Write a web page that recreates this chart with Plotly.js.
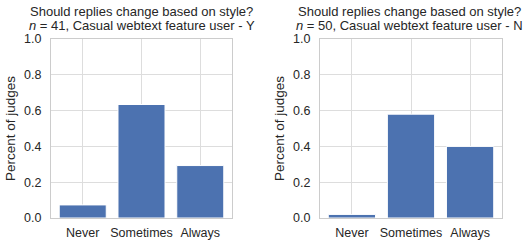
<!DOCTYPE html>
<html><head><meta charset="utf-8">
<script src="https://cdn.plot.ly/plotly-3.0.1.min.js"></script>
<style>html,body{margin:0;padding:0;background:#fff}</style>
</head><body>
<div id="chart" style="width:524px;height:241px"></div>
<script>
const categories = ["Never", "Sometimes", "Always"];
const valuesY = [0.073, 0.634, 0.293];
const valuesN = [0.02, 0.58, 0.40];
const titleLine1 = "Should replies change based on style?";
const subtitleY = "<i>n</i> = 41, Casual webtext feature user - Y";
const subtitleN = "<i>n</i> = 50, Casual webtext feature user - N";
const yTicks = [0, 0.2, 0.4, 0.6, 0.8, 1.0];
const yTickText = ["0.0", "0.2", "0.4", "0.6", "0.8", "1.0"];

const font = "Liberation Sans, Arial, sans-serif";
const txt = "#262626";
const barColor = "#4C72B0";

const traces = [
  {type:"bar", x:[0,1,2], y:valuesY, xaxis:"x", yaxis:"y", width:0.8,
   marker:{color:barColor, line:{color:"#ffffff", width:1}}, hoverinfo:"none"},
  {type:"bar", x:[0,1,2], y:valuesN, xaxis:"x2", yaxis:"y2", width:0.8,
   marker:{color:barColor, line:{color:"#ffffff", width:1}}, hoverinfo:"none"}
];

function xax(domain){
  return {domain:domain, range:[-0.54, 2.54], tickvals:[0,1,2], ticktext:categories,
    showgrid:true, gridcolor:"#dddddd", gridwidth:1, zeroline:false,
    showline:true, linecolor:"#cccccc", linewidth:1, mirror:true,
    ticks:"outside", ticklen:3, tickcolor:"rgba(0,0,0,0)",
    tickfont:{family:font, size:12.5, color:txt}, fixedrange:true};
}
function yax(domain, anchor){
  return {domain:domain, anchor:anchor, range:[0,1], tickvals:yTicks, ticktext:yTickText,
    showgrid:true, gridcolor:"#dddddd", gridwidth:1, zeroline:false,
    showline:true, linecolor:"#cccccc", linewidth:1, mirror:true,
    ticks:"outside", ticklen:6, tickcolor:"rgba(0,0,0,0)",
    tickfont:{family:font, size:12.5, color:txt},
    title:{text:"Percent of judges", font:{family:font, size:13.5, color:txt}, standoff:5},
    fixedrange:true};
}
const d1 = [51/524, 232/524];
const d2 = [320/524, 502/524];
const yd = [1-218/241, 1-39/241];

const tf = {family:font, size:13, color:txt};
const c1 = 141.5/524, c2 = 409.5/524;
const layout = {
  width:524, height:241, margin:{l:0,r:0,t:0,b:0},
  paper_bgcolor:"#ffffff", plot_bgcolor:"#ffffff", showlegend:false,
  bargap:0.2,
  xaxis:xax(d1), yaxis:yax(yd, "x"),
  xaxis2:xax(d2), yaxis2:yax(yd, "x2"),
  annotations:[
    {text:titleLine1, x:c1, y:1-11.5/241, xref:"paper", yref:"paper", showarrow:false, xanchor:"center", yanchor:"middle", font:tf},
    {text:subtitleY, x:c1, y:1-25.5/241, xref:"paper", yref:"paper", showarrow:false, xanchor:"center", yanchor:"middle", font:tf},
    {text:titleLine1, x:c2, y:1-11.5/241, xref:"paper", yref:"paper", showarrow:false, xanchor:"center", yanchor:"middle", font:tf},
    {text:subtitleN, x:c2, y:1-25.5/241, xref:"paper", yref:"paper", showarrow:false, xanchor:"center", yanchor:"middle", font:tf}
  ]
};
Plotly.newPlot("chart", traces, layout, {displayModeBar:false, staticPlot:true});
</script>
</body></html>
